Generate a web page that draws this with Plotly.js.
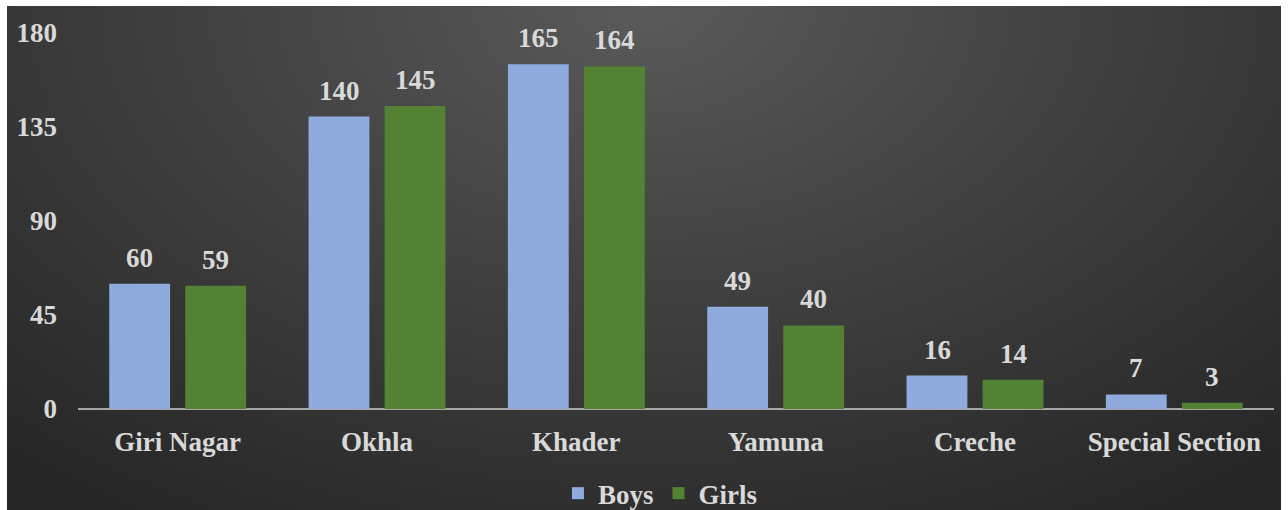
<!DOCTYPE html>
<html>
<head>
<meta charset="utf-8">
<script src="https://cdn.plot.ly/plotly-3.0.1.min.js"></script>
<style>
  html, body { margin: 0; padding: 0; background: #ffffff; width: 1288px; height: 510px; overflow: hidden; }
  #bg { position: absolute; left: 7px; top: 6px; width: 1274px; height: 504px;
        background: radial-gradient(ellipse 75% 120% at 50% 0%, #5a5a5a 0%, #444444 40%, #262626 100%); }
  #chart { position: absolute; left: 0; top: 0; width: 1288px; height: 510px; }
</style>
</head>
<body>
<div id="bg"></div>
<div id="chart"></div>
<script>
const categories = ["Giri Nagar", "Okhla", "Khader", "Yamuna", "Creche", "Special Section"];
const boys = [60, 140, 165, 49, 16, 7];
const girls = [59, 145, 164, 40, 14, 3];
const yTicks = [0, 45, 90, 135, 180];

const textFont = { family: "Liberation Serif", size: 27, color: "#d9d9d9", weight: "bold" };

const traces = [
  { type: "bar", name: "Boys", x: categories, y: boys, marker: { color: "#8faadc" }, hoverinfo: "none" },
  { type: "bar", name: "Girls", x: categories, y: girls, marker: { color: "#548235" }, hoverinfo: "none" }
];

const annotations = [];
categories.forEach((c, i) => {
  annotations.push({ x: c, y: boys[i], xref: "x", yref: "y", text: String(boys[i]), showarrow: false,
                     xshift: -38, yshift: 9, yanchor: "bottom", font: textFont });
  annotations.push({ x: c, y: girls[i], xref: "x", yref: "y", text: String(girls[i]), showarrow: false,
                     xshift: 38, yshift: 9, yanchor: "bottom", font: textFont });
});

const layout = {
  width: 1288, height: 510,
  paper_bgcolor: "rgba(0,0,0,0)", plot_bgcolor: "rgba(0,0,0,0)",
  margin: { l: 78, r: 14, t: 33, b: 101, autoexpand: false },
  barmode: "group", bargap: 0.237, bargroupgap: 0.2,
  font: textFont,
  xaxis: { showgrid: false, zeroline: false, showline: false, ticks: "", tickfont: textFont,
           ticklabelstandoff: 14, fixedrange: true, automargin: false },
  yaxis: { range: [0, 180], tickvals: yTicks, ticktext: yTicks.map(String), showgrid: false,
           zeroline: true, zerolinecolor: "#a6a6a6", zerolinewidth: 2, showline: false, ticks: "",
           tickfont: textFont, ticklabelstandoff: 20, fixedrange: true, automargin: false },
  annotations: annotations,
  showlegend: true,
  legend: { orientation: "h", x: 0.487, xanchor: "center", y: -0.225, yanchor: "middle",
            font: textFont, bgcolor: "rgba(0,0,0,0)", itemwidth: 30 }
};

Plotly.newPlot("chart", traces, layout, { displayModeBar: false, staticPlot: true });
</script>
</body>
</html>
